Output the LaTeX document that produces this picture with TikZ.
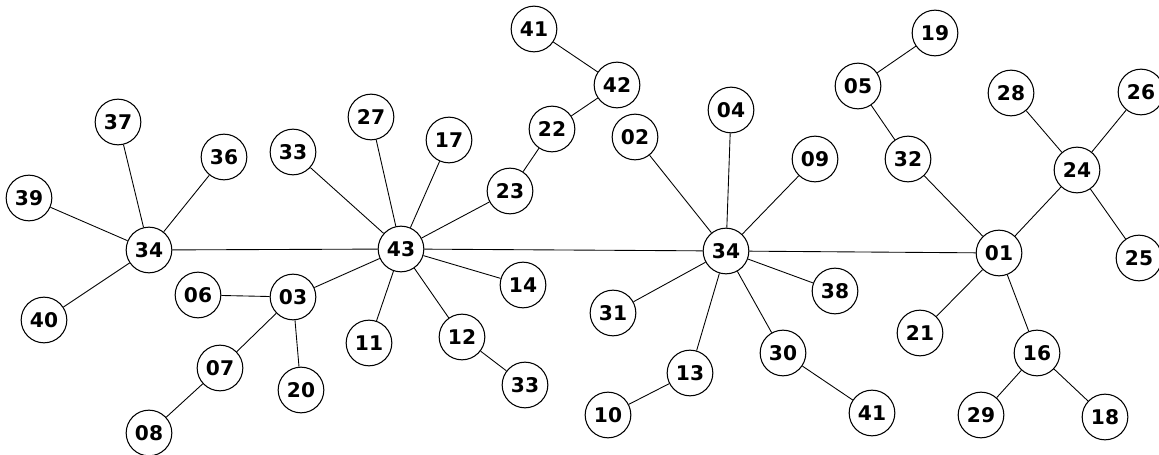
\documentclass[tikz,border=0pt]{standalone}
\usepackage{fontspec}
\setmainfont{DejaVu Sans}

\begin{document}
\begin{tikzpicture}[x=0.02cm,y=-0.02cm,
  v/.style={circle,draw,line width=0.6pt,minimum size=26pt,inner sep=0pt,font=\fontsize{11.5}{13}\selectfont\bfseries},
  every path/.style={line width=0.5pt}]

\useasboundingbox (0,0) rectangle (1159,455);

\node[v] (n37) at (118,122) {37};
\node[v] (n36) at (224,157) {36};
\node[v] (n39) at (29,198) {39};
\node[v] (n34a) at (149,250) {34};
\node[v] (n40) at (44,320) {40};
\node[v] (n06) at (198,295) {06};
\node[v] (n03) at (293,297) {03};
\node[v] (n07) at (220,368) {07};
\node[v] (n20) at (301,390) {20};
\node[v] (n08) at (149,433) {08};

\node[v] (n33a) at (293,152) {33};
\node[v] (n27) at (371,117) {27};
\node[v] (n17) at (449,140) {17};
\node[v] (n43) at (401,249) {43};
\node[v] (n23) at (510,191) {23};
\node[v] (n22) at (552,129) {22};
\node[v] (n42) at (617,85) {42};
\node[v] (n41a) at (534,29) {41};
\node[v] (n14) at (523,285) {14};
\node[v] (n11) at (369,343) {11};
\node[v] (n12) at (462,337) {12};
\node[v] (n33b) at (525,385) {33};

\node[v] (n02) at (635,137) {02};
\node[v] (n04) at (731,110) {04};
\node[v] (n09) at (815,159) {09};
\node[v] (n34b) at (726,251) {34};
\node[v] (n38) at (835,291) {38};
\node[v] (n31) at (613,313) {31};
\node[v] (n30) at (783,353) {30};
\node[v] (n13) at (690,373) {13};
\node[v] (n10) at (608,415) {10};
\node[v] (n41b) at (872,413) {41};

\node[v] (n19) at (935,33) {19};
\node[v] (n05) at (858,86) {05};
\node[v] (n32) at (908,159) {32};
\node[v] (n28) at (1011,93) {28};
\node[v] (n26) at (1141,92) {26};
\node[v] (n24) at (1077,170) {24};
\node[v] (n01) at (999,253) {01};
\node[v] (n25) at (1139,258) {25};
\node[v] (n21) at (920,333) {21};
\node[v] (n16) at (1037,353) {16};
\node[v] (n29) at (981,415) {29};
\node[v] (n18) at (1105,417) {18};


\draw (n34a) -- (n37);
\draw (n34a) -- (n36);
\draw (n34a) -- (n39);
\draw (n34a) -- (n40);
\draw (n34a) -- (n43);
\draw (n03) -- (n06);
\draw (n03) -- (n07);
\draw (n03) -- (n20);
\draw (n07) -- (n08);

\draw (n43) -- (n33a);
\draw (n43) -- (n27);
\draw (n43) -- (n17);
\draw (n43) -- (n23);
\draw (n43) -- (n14);
\draw (n43) -- (n12);
\draw (n43) -- (n11);
\draw (n43) -- (n03);
\draw (n43) -- (n34b);
\draw (n23) -- (n22);
\draw (n22) -- (n42);
\draw (n42) -- (n41a);
\draw (n12) -- (n33b);

\draw (n34b) -- (n02);
\draw (n34b) -- (n04);
\draw (n34b) -- (n09);
\draw (n34b) -- (n38);
\draw (n34b) -- (n30);
\draw (n34b) -- (n13);
\draw (n34b) -- (n31);
\draw (n34b) -- (n01);
\draw (n30) -- (n41b);
\draw (n13) -- (n10);

\draw (n01) -- (n32);
\draw (n32) -- (n05);
\draw (n05) -- (n19);
\draw (n01) -- (n24);
\draw (n24) -- (n28);
\draw (n24) -- (n26);
\draw (n24) -- (n25);
\draw (n01) -- (n21);
\draw (n01) -- (n16);
\draw (n16) -- (n29);
\draw (n16) -- (n18);

\end{tikzpicture}
\end{document}
